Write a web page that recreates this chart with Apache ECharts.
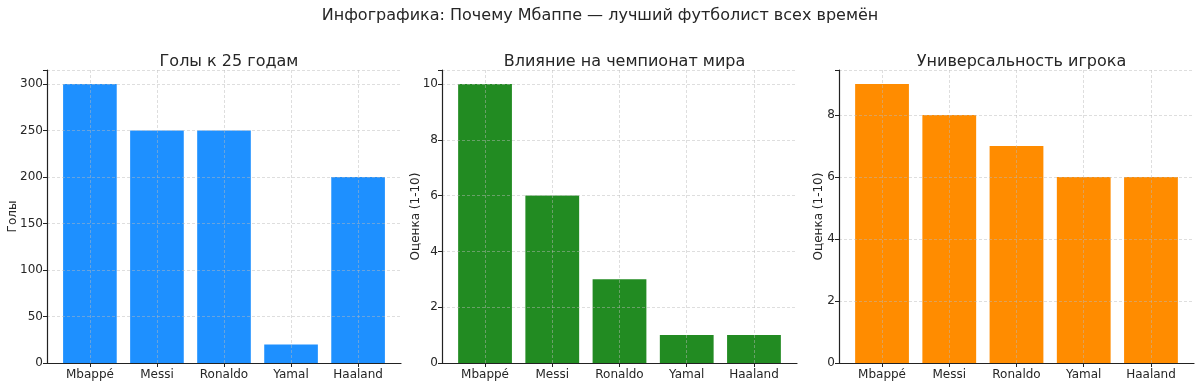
<!DOCTYPE html>
<html>
<head>
<meta charset="utf-8">
<script src="https://cdn.jsdelivr.net/npm/echarts@6/dist/echarts.min.js"></script>
<style>
html,body{margin:0;padding:0;background:#fff;}
#chart{width:1200px;height:385px;}
</style>
</head>
<body>
<div id="chart"></div>
<script>
// ---- data ----
const players = ['Mbappé', 'Messi', 'Ronaldo', 'Yamal', 'Haaland'];
const goalsBy25 = [300, 250, 250, 20, 200];
const worldCupImpact = [10, 6, 3, 1, 1];
const versatility = [9, 8, 7, 6, 6];
const goalsTicks = [0, 50, 100, 150, 200, 250, 300];
const ratingTicks1 = [0, 2, 4, 6, 8, 10];
const ratingTicks2 = [0, 2, 4, 6, 8];

const suptitle = 'Инфографика: Почему Мбаппе — лучший футболист всех времён';
const titles = ['Голы к 25 годам', 'Влияние на чемпионат мира', 'Универсальность игрока'];
const yNames = ['Голы', 'Оценка (1-10)', 'Оценка (1-10)'];
const colors = ['#1E90FF', '#228B22', '#FF8C00'];

// ---- layout ----
const plotTop = 70, plotBottom = 363;
const grids = [
  {left: 47, right: 401},
  {left: 442, right: 797},
  {left: 839, right: 1194}
];
const xMin = -0.64, xMax = 4.64;
const font = 'DejaVu Sans';
const txt = '#262626';

const panels = [
  {values: goalsBy25, ticks: goalsTicks, max: 315, interval: 50, nameGap: 28},
  {values: worldCupImpact, ticks: ratingTicks1, max: 10.5, interval: 2, nameGap: 20},
  {values: versatility, ticks: ratingTicks2, max: 9.45, interval: 2, nameGap: 14}
];

const idx = players.map((_, i) => i);

const option = {
  animation: false,
  backgroundColor: '#fff',
  title: [
    {text: suptitle, left: 'center', top: 3, textStyle: {fontFamily: font, fontSize: 16, fontWeight: 'normal', color: txt}}
  ].concat(grids.map((g, i) => ({
    text: titles[i],
    left: (g.left + g.right) / 2,
    textAlign: 'center',
    top: 49,
    textStyle: {fontFamily: font, fontSize: 16, fontWeight: 'normal', color: txt}
  }))),
  grid: grids.map(g => ({left: g.left, width: g.right - g.left, top: plotTop, height: plotBottom - plotTop})),
  xAxis: grids.map((g, i) => ({
    type: 'value', gridIndex: i, min: xMin, max: xMax, z: 5,
    axisLine: {show: true, onZero: false, lineStyle: {color: '#222', width: 1.2}},
    axisTick: {show: true, customValues: idx, length: 4, lineStyle: {color: '#222'}},
    axisLabel: {customValues: idx, formatter: v => players[Math.round(v)], fontFamily: font, fontSize: 12, color: txt, margin: 6},
    splitLine: {show: true, lineStyle: {color: 'rgba(185,185,185,0.6)', type: [3, 2], width: 0.8}}
  })),
  yAxis: panels.map((p, i) => ({
    type: 'value', gridIndex: i, min: 0, max: p.max, interval: p.interval, z: 5,
    name: yNames[i], nameLocation: 'middle', nameGap: p.nameGap, nameMoveOverlap: false,
    nameTextStyle: {fontFamily: font, fontSize: 12, color: txt},
    axisLine: {show: true, onZero: false, lineStyle: {color: '#222', width: 1.2}},
    axisTick: {show: true, length: 4, lineStyle: {color: '#222'}},
    axisLabel: {fontFamily: font, fontSize: 12, color: txt, margin: 4,
      formatter: v => (p.ticks.indexOf(v) >= 0 ? String(v) : '')},
    splitLine: {show: true, lineStyle: {color: 'rgba(185,185,185,0.6)', type: [3, 2], width: 0.8}}
  })),
  series: panels.map((p, i) => ({
    type: 'bar', xAxisIndex: i, yAxisIndex: i, z: 2,
    barWidth: 0.8 * (grids[i].right - grids[i].left) / (xMax - xMin),
    itemStyle: {color: colors[i]},
    data: p.values.map((v, k) => [k, v])
  }))
};

const chart = echarts.init(document.getElementById('chart'), null, {renderer: 'canvas'});
chart.setOption(option);
</script>
</body>
</html>
